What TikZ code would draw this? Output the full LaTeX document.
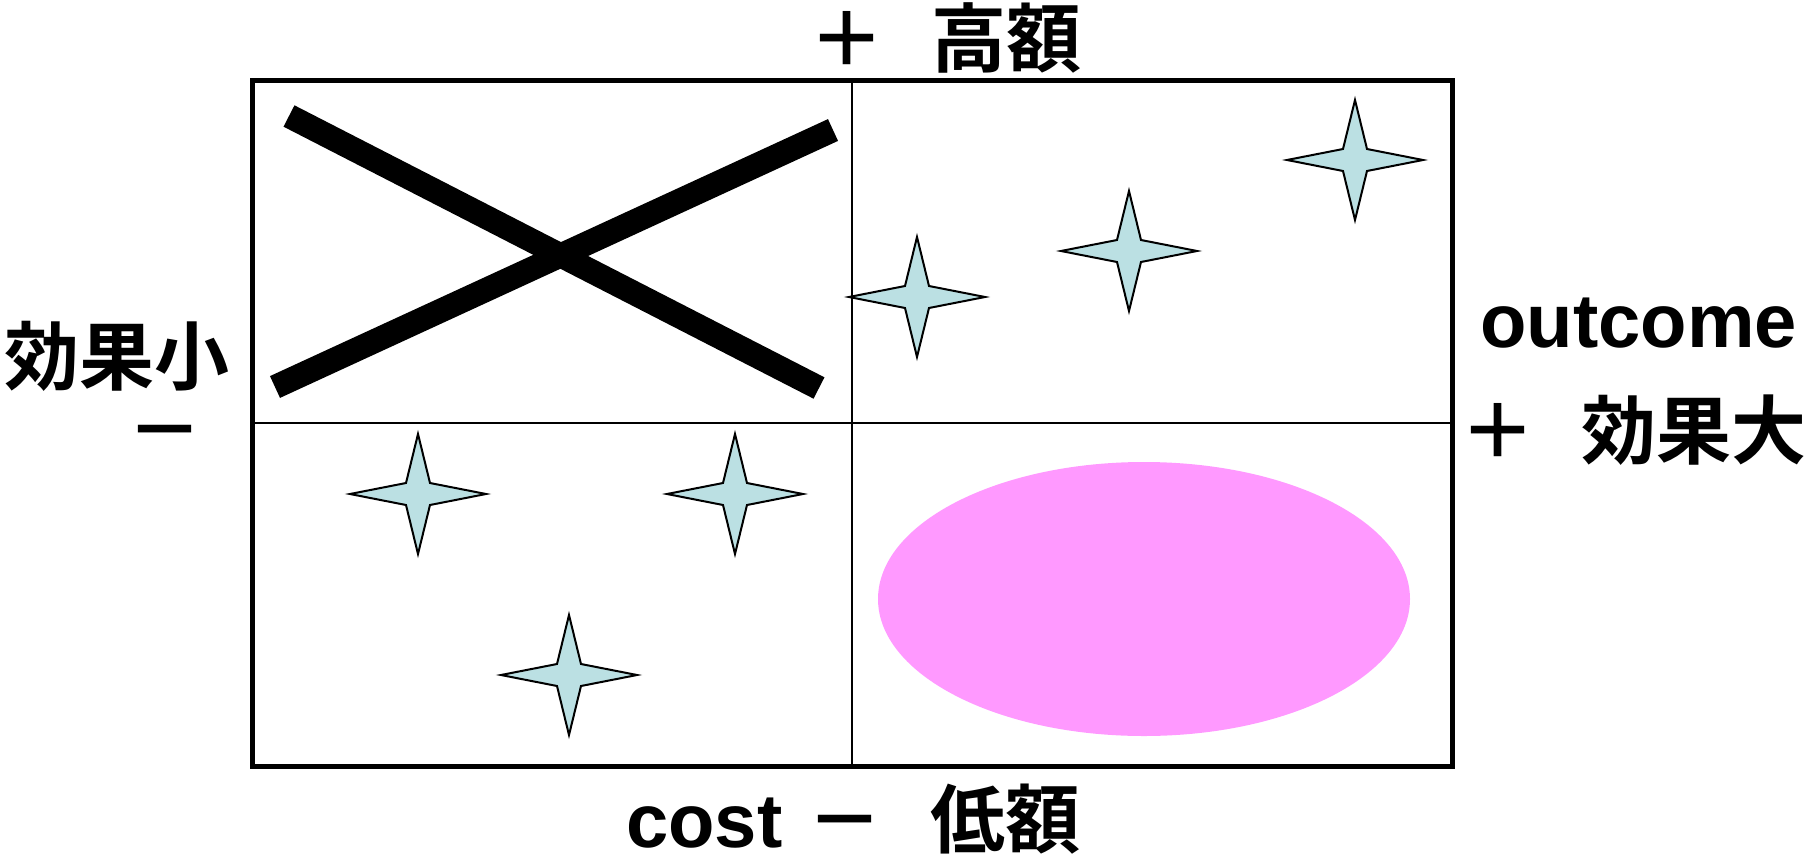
\documentclass[tikz,border=0pt]{standalone}
\usepackage{fontspec}
\setmainfont{Liberation Sans}
\newfontfamily\jpfont{Noto Sans CJK JP}[BoldFont={Noto Sans CJK JP Bold}]
\definecolor{starblue}{HTML}{BBE0E3}
\definecolor{blobpink}{HTML}{FF99FF}
\begin{document}
\begin{tikzpicture}[x=1pt, y=-1pt,
            axistext/.style={inner sep=0pt, anchor=base west, font=\fontsize{76}{84}\selectfont\bfseries},
            jptext/.style={axistext, font=\fontsize{75}{84}\selectfont\bfseries\jpfont},
            sparkle/.style={draw=black, line width=2pt, fill=starblue}
            ]
            \useasboundingbox (0,0) rectangle (1807,862);

            \node[jptext] (high) at (809,66) {＋\hspace{47pt}高額};
            \node[axistext] (low) at (626,847) {cost\hspace{25pt}{\fontsize{75}{84}\selectfont\jpfont －\hspace{48pt}低額}};
            \node[axistext] (outcome) at (1480,347) {outcome};
            \node[jptext] (big) at (1460,458) {＋\hspace{46pt}効果大};
            \node[jptext] (small) at (4,384) {効果小};
            \node[jptext] (minus) at (127,457) {－};

            \fill[blobpink] (1144,599) ellipse [x radius=266pt, y radius=137pt];

            \draw[line width=2pt] (852,80) -- (852,766);
            \draw[line width=2pt] (252,423) -- (1452,423);
            \draw[line width=5pt] (252,80) rectangle (1452,766);

            \draw[line width=24pt] (289,116) -- (819,388);
            \draw[line width=24pt] (275,387) -- (833,130);

            \foreach \sx/\sy in {917/297, 1129/251, 1355/160, 418/494, 735/494, 569/675}
                \filldraw[sparkle, shift={(\sx,\sy)}] (0,-60) -- (12,-11) -- (68,0) -- (12,11) -- (0,60) -- (-12,11) -- (-68,0) -- (-12,-11) -- cycle;

            \end{tikzpicture}
\end{document}
